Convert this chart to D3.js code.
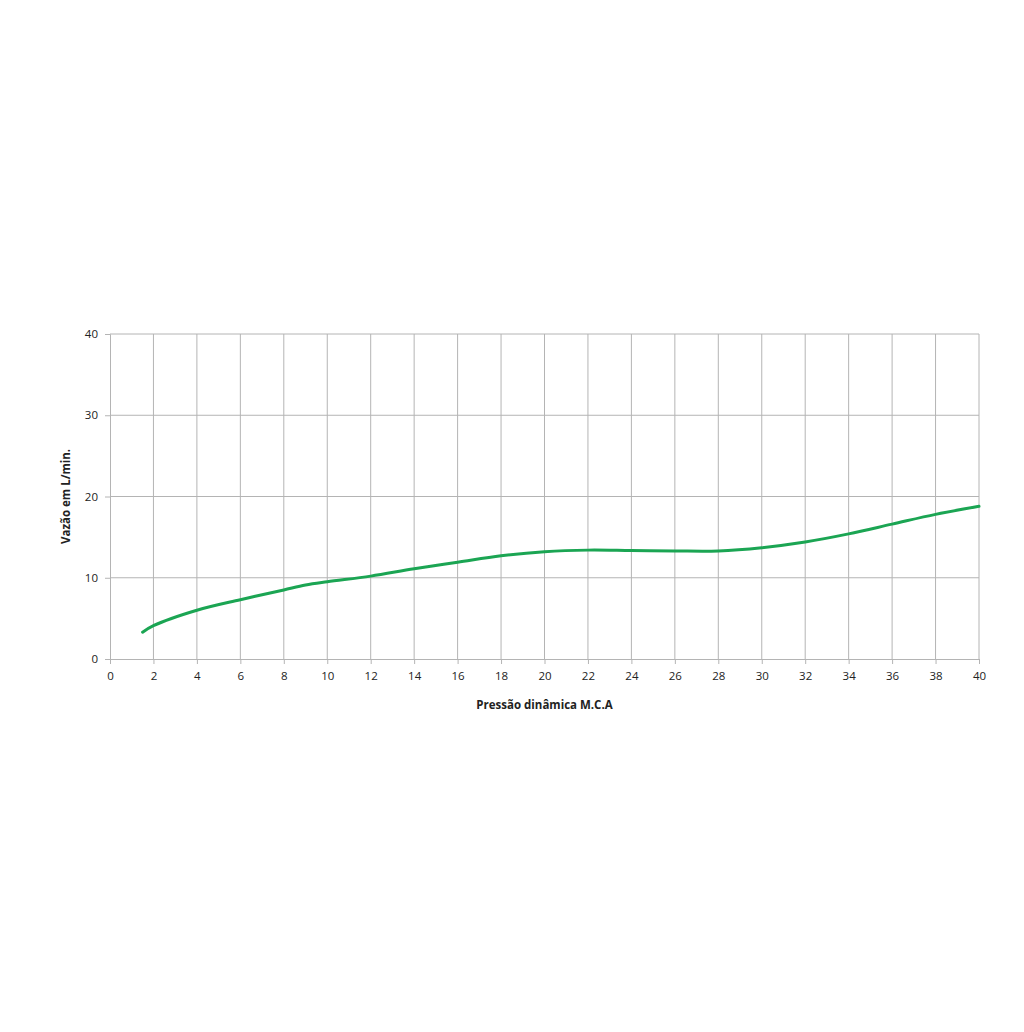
<!DOCTYPE html>
<html><head><meta charset="utf-8">
<script src="https://cdn.jsdelivr.net/npm/d3@7"></script>
<style>body{margin:0;background:#fff}svg{display:block}</style>
</head><body>
<script>
const pressure = [1.5, 2, 4, 6, 8, 9, 10, 12, 14, 16, 18, 20, 22, 24, 26, 28, 30, 32, 34, 36, 38, 40];
const flow = [3.3, 4.1, 6.0, 7.3, 8.5, 9.1, 9.5, 10.2, 11.1, 11.9, 12.7, 13.2, 13.4, 13.35, 13.3, 13.3, 13.7, 14.4, 15.4, 16.6, 17.8, 18.8];
const xTicks = d3.range(0, 41, 2);
const yTicks = [0, 10, 20, 30, 40];
const xTitle = "Pressão dinâmica M.C.A";
const yTitle = "Vazão em L/min.";

const W = 1024, H = 1032;
const svg = d3.select("body").append("svg").attr("width", W).attr("height", H);
const x = d3.scaleLinear().domain([0, 40]).range([110, 979]);
const y = d3.scaleLinear().domain([0, 40]).range([659, 334]);
const font = "'Open Sans', 'Liberation Sans', sans-serif";
const grid = "#b4b4b4";

svg.append("g").selectAll("line").data(xTicks.filter(d => d > 0)).join("line")
  .attr("x1", d => x(d)).attr("x2", d => x(d)).attr("y1", y(0)).attr("y2", y(40))
  .attr("stroke", grid).attr("stroke-width", 1);
svg.append("g").selectAll("line").data(yTicks.filter(d => d > 0)).join("line")
  .attr("x1", x(0)).attr("x2", x(40)).attr("y1", d => y(d)).attr("y2", d => y(d))
  .attr("stroke", grid).attr("stroke-width", 1);

const xAxis = svg.append("g").attr("transform", `translate(0,${y(0)})`)
  .call(d3.axisBottom(x).tickValues(xTicks).tickSize(5).tickPadding(8).tickFormat(d3.format("d")));
const yAxis = svg.append("g").attr("transform", `translate(${x(0)},0)`)
  .call(d3.axisLeft(y).tickValues(yTicks).tickSize(5).tickPadding(7));
[xAxis, yAxis].forEach(g => {
  g.selectAll("path,line").attr("stroke", grid);
  g.selectAll("text").attr("font-family", font).attr("font-size", 11.5).attr("fill", "#222");
});

svg.append("path").datum(pressure.map((p, i) => [p, flow[i]]))
  .attr("fill", "none").attr("stroke", "#1ba553").attr("stroke-width", 3)
  .attr("stroke-linecap", "round")
  .attr("d", d3.line().x(d => x(d[0])).y(d => y(d[1])).curve(d3.curveCatmullRom.alpha(0.5)));

svg.append("text").attr("x", (x(0) + x(40)) / 2).attr("y", 709)
  .attr("text-anchor", "middle").attr("font-family", font).attr("font-size", 11.5)
  .attr("font-weight", "bold").attr("fill", "#222").text(xTitle);
svg.append("text").attr("transform", `translate(70,${(y(0) + y(40)) / 2}) rotate(-90)`)
  .attr("text-anchor", "middle").attr("font-family", font).attr("font-size", 11.5)
  .attr("font-weight", "bold").attr("fill", "#222").text(yTitle);
</script>
</body></html>
